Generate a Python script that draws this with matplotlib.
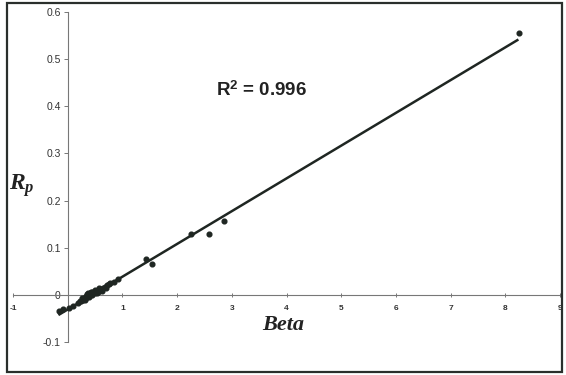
import numpy as np
import matplotlib.pyplot as plt
from matplotlib.patches import Rectangle

plt.rcParams["mathtext.fontset"] = "custom"
plt.rcParams["mathtext.it"] = "Liberation Serif:italic:bold"
plt.rcParams["mathtext.bf"] = "Liberation Sans:bold"
plt.rcParams["mathtext.rm"] = "Liberation Sans:bold"

# scatter data (Beta, Rp)
beta = [-0.15, -0.09, 0.02, 0.10, 0.18, 0.22, 0.25, 0.28, 0.30, 0.32, 0.34, 0.35,
        0.37, 0.38, 0.40, 0.41, 0.43, 0.44, 0.46, 0.48, 0.50, 0.52, 0.55, 0.57,
        0.60, 0.62, 0.65, 0.68, 0.72, 0.75, 0.85, 0.92, 1.44, 1.54, 2.25, 2.58,
        2.85, 8.25,
        0.27, 0.31, 0.36, 0.39, 0.42, 0.45, 0.49, 0.53, 0.58, 0.63, 0.70, 0.78]
rp = [-0.034, -0.031, -0.027, -0.023, -0.018, -0.014, -0.012, -0.010, -0.006, -0.008,
      -0.003, -0.005, -0.001, 0.003, 0.000, 0.004, 0.002, 0.006, 0.003, 0.007, 0.005,
      0.009, 0.007, 0.011, 0.010, 0.013, 0.014, 0.016, 0.020, 0.024, 0.027, 0.033,
      0.076, 0.066, 0.129, 0.130, 0.157, 0.555,
      -0.006, -0.011, 0.001, -0.004, 0.007, -0.001, 0.010, 0.003, 0.014, 0.008,
      0.014, 0.026]

# fitted line as drawn
fit_slope = 0.0695
fit_intercept = -0.031
fit_x = [-0.15, 8.22]

xticks = [-1, 1, 2, 3, 4, 5, 6, 7, 8, 9]
yticks = [-0.1, 0, 0.1, 0.2, 0.3, 0.4, 0.5, 0.6]
ylabels = ["-0.1", "0", "0.1", "0.2", "0.3", "0.4", "0.5", "0.6"]

ink = "#1f2622"

fig = plt.figure(figsize=(5.66, 3.75), dpi=100)
fig.patches.append(Rectangle((7 / 566, 3 / 375), 555 / 566, 369 / 375,
                             transform=fig.transFigure, fill=False,
                             edgecolor="#2a2f2c", linewidth=1.6))

ax = fig.add_axes([13 / 566, 33 / 375, 547 / 566, 330 / 375])
ax.set_xlim(-1, 9)
ax.set_ylim(-0.1, 0.6)

for s in ["top", "right"]:
    ax.spines[s].set_visible(False)
ax.spines["left"].set_position(("data", 0))
ax.spines["bottom"].set_position(("data", 0))
ax.spines["left"].set_color("#777")
ax.spines["bottom"].set_color("#777")
ax.spines["left"].set_linewidth(0.8)
ax.spines["bottom"].set_linewidth(0.8)

ax.set_xticks(xticks)
ax.set_xticklabels([str(t) for t in xticks], fontsize=6, fontweight="bold",
                   family="Liberation Sans", color="#333")
ax.set_yticks(yticks)
ax.set_yticklabels(ylabels, fontsize=7.5, family="Liberation Sans", color="#333")
ax.tick_params(axis="x", direction="inout", length=3, width=0.7, color="#777", pad=6)
ax.tick_params(axis="y", direction="out", length=3, width=0.7, color="#777", pad=2)

lx = np.array(fit_x)
ax.plot(lx, fit_slope * lx + fit_intercept, color=ink, linewidth=1.8, zorder=3)
ax.plot(beta, rp, "o", color=ink, markersize=3.4, zorder=4)

ax.text(3.55, 0.433, r"R$^\mathbf{2}$ = 0.996", fontsize=13.5, fontweight="bold",
        family="Liberation Sans", color="#222", ha="center", va="center")

fig.text(22 / 566, 1 - 186 / 375, "$R_p$", fontsize=17,
         ha="center", va="center", color="#222")
fig.text(283 / 566, 1 - 325 / 375, "Beta", fontsize=16, fontweight="bold",
         style="italic", family="Liberation Serif", ha="center", va="center",
         color="#222")

fig.savefig("out.png", dpi=100)
